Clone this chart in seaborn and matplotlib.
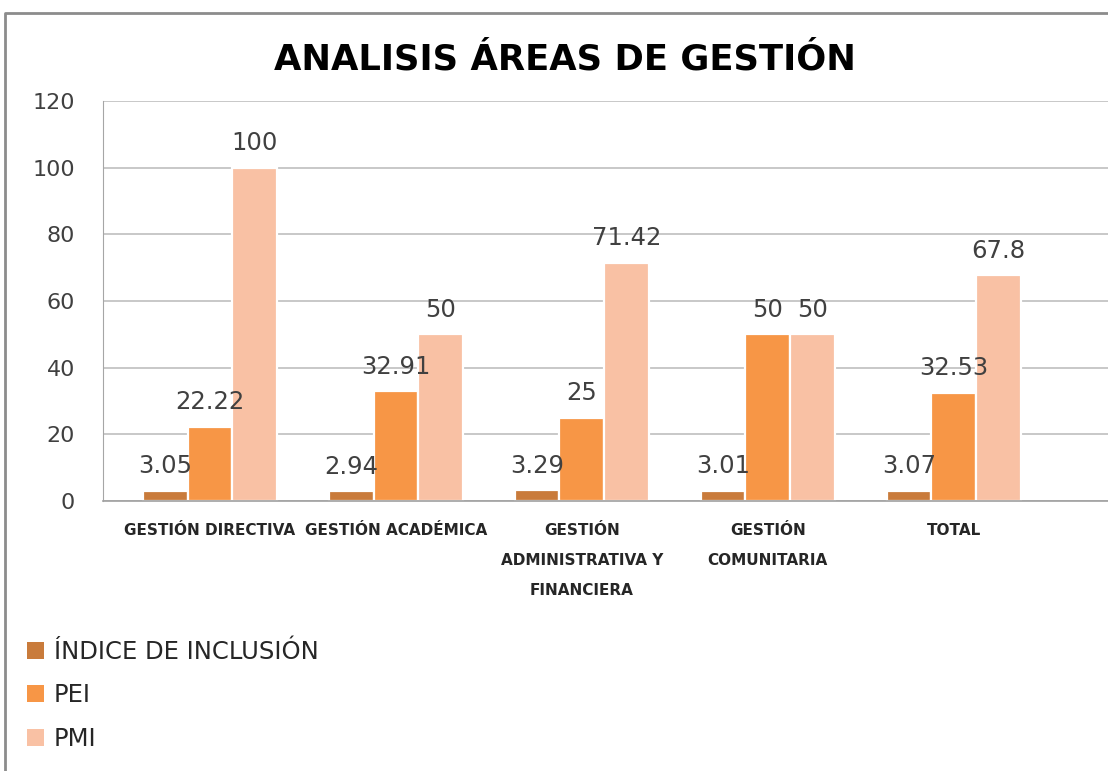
import matplotlib
matplotlib.use('Agg')
import matplotlib.pyplot as plt
from matplotlib.lines import Line2D
from matplotlib.patches import Patch
import seaborn as sns
import pandas as pd

areas = ['GESTIÓN DIRECTIVA', 'GESTIÓN ACADÉMICA',
         'GESTIÓN\nADMINISTRATIVA Y\nFINANCIERA', 'GESTIÓN\nCOMUNITARIA', 'TOTAL']
series = ['ÍNDICE DE INCLUSIÓN', 'PEI', 'PMI']
indice = [3.05, 2.94, 3.29, 3.01, 3.07]
pei = [22.22, 32.91, 25, 50, 32.53]
pmi = [100, 50, 71.42, 50, 67.8]
label_text = {
    'ÍNDICE DE INCLUSIÓN': ['3.05', '2.94', '3.29', '3.01', '3.07'],
    'PEI': ['22.22', '32.91', '25', '50', '32.53'],
    'PMI': ['100', '50', '71.42', '50', '67.8'],
}
colors = ['#C97B3B', '#F79646', '#F9C1A4']

df = pd.DataFrame({
    'area': areas * 3,
    'serie': [s for s in series for _ in areas],
    'valor': indice + pei + pmi,
})

sns.set_style('white')
plt.rcParams['font.family'] = ['DejaVu Sans']

fig = plt.figure(figsize=(11.08, 7.71), dpi=100)
ax = fig.add_axes([103 / 1108, 270 / 771, 1005 / 1108, 400 / 771])

sns.barplot(data=df, x='area', y='valor', hue='serie', order=areas,
            hue_order=series, palette=colors, saturation=1, width=0.72,
            edgecolor='white', linewidth=1.6, legend=False, ax=ax)

for cont, s in zip(ax.containers, series):
    ax.bar_label(cont, labels=label_text[s], padding=9, fontsize=17.5,
                 color='#404040')

ax.set_ylim(0, 120)
ax.set_yticks(range(0, 121, 20))
ax.set_xlim(-0.575, 4.83)
ax.yaxis.grid(True, color='#BFBFBF', linewidth=1.2)
ax.set_axisbelow(True)
ax.set_xlabel('')
ax.set_ylabel('')
ax.tick_params(axis='y', length=0, pad=20, labelsize=16, labelcolor='#404040')
ax.tick_params(axis='x', length=0, pad=16)
ax.set_xticks(range(len(areas)))
ax.set_xticklabels(areas, fontsize=11, fontweight='bold', color='#262626',
                   linespacing=2.25)
for side in ['top', 'right']:
    ax.spines[side].set_visible(False)
ax.spines['left'].set_color('#A6A6A6')
ax.spines['bottom'].set_color('#A0A0A0')
ax.spines['bottom'].set_linewidth(1.2)

fig.text(565 / 1108, 1 - 60 / 771, 'ANALISIS ÁREAS DE GESTIÓN', ha='center',
         va='center', fontsize=25.5, fontweight='bold', color='black')

handles = [Patch(facecolor=c, edgecolor='none') for c in colors]
ax.legend(handles, series, loc='upper left',
          bbox_to_anchor=(27 / 1108, 1 - 640 / 771),
          bbox_transform=fig.transFigure, frameon=False, fontsize=17.5,
          handlelength=0.7, handleheight=0.7, handletextpad=0.4,
          labelspacing=0.8, borderpad=0, borderaxespad=0,
          labelcolor='#262626')

fig.add_artist(Line2D([5 / 1108, 5 / 1108, 1], [0, 1 - 13 / 771, 1 - 13 / 771],
                      transform=fig.transFigure, color='#8C8C8C', linewidth=2))

fig.savefig('out.png', dpi=100)
